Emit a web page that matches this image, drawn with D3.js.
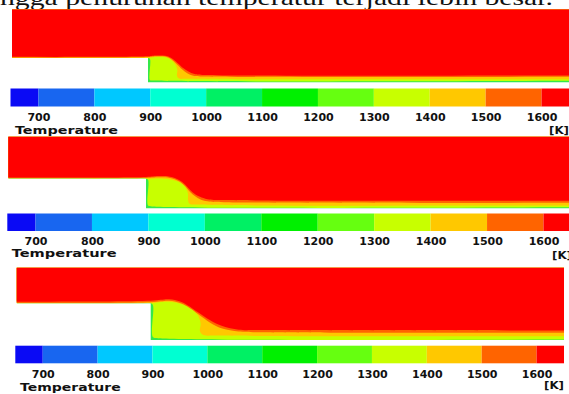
<!DOCTYPE html>
<html>
<head>
<meta charset="utf-8">
<script src="https://cdn.jsdelivr.net/npm/d3@7"></script>
<style>
  html, body { margin: 0; padding: 0; background: #fff; }
  svg { display: block; }
</style>
</head>
<body>
<svg id="chart" width="569" height="394"></svg>
<script>
// ---------- DATA ----------
const captionText = "ngga penurunan temperatur terjadi lebih besar.";
const tickValues = [700, 800, 900, 1000, 1100, 1200, 1300, 1400, 1500, 1600];
const bandEdges = [650, 700, 800, 900, 1000, 1100, 1200, 1300, 1400, 1500, 1600, 1650];
const bandColors = ["#0a0af5", "#1866f0", "#00c8ff", "#00ffd2", "#00f064", "#00f000",
                    "#66ff10", "#c8ff00", "#ffc800", "#ff6400", "#ff0000"];
const legendTitle = "Temperature";
const unitLabel = "[K]";
// isotherm levels drawn in the field (colour of region above each isotherm)
const isoLevels = [1300, 1400, 1500, 1600];
const wallColor = "#34e84a";
// isotherm shapes, [x downstream of step, height above bottom wall] in step heights
const case1Iso = {
  1300: [[-10,1.0],[0,1.0],[0.08,0.96],[0.08,0.1],[0.2,0.08],[20,0.08]],
  1400: [[-10,1.0],[0,1.0],[0.3,1.04],[0.7,1.03],[0.95,0.92],[1.12,0.72],[1.2,0.5],[1.18,0.3],[1.25,0.17],[1.6,0.15],[20,0.14]],
  1500: [[-10,1.03],[0,1.04],[0.3,1.07],[0.7,1.06],[0.95,0.95],[1.15,0.78],[1.4,0.53],[1.6,0.38],[1.85,0.28],[2.3,0.25],[20,0.24]],
  1600: [[-10,1.06],[0,1.07],[0.3,1.1],[0.7,1.09],[0.95,1.0],[1.2,0.8],[1.45,0.58],[1.65,0.45],[1.9,0.35],[2.3,0.31],[20,0.30]]
};
const case2Iso = {
  1300: [[-10,1.0],[0,1.0],[0.07,0.95],[0.07,0.1],[0.2,0.07],[20,0.07]],
  1400: [[-10,1.0],[0,0.99],[0.4,1.0],[0.8,0.97],[1.1,0.88],[1.3,0.72],[1.4,0.5],[1.4,0.3],[1.45,0.16],[1.7,0.13],[20,0.12]],
  1500: [[-10,1.02],[0,1.02],[0.4,1.04],[0.8,1.02],[1.1,0.91],[1.3,0.75],[1.47,0.55],[1.65,0.4],[1.8,0.31],[2.05,0.24],[2.6,0.21],[20,0.2]],
  1600: [[-10,1.05],[0,1.05],[0.4,1.08],[0.8,1.06],[1.1,0.95],[1.3,0.8],[1.47,0.62],[1.65,0.47],[1.8,0.39],[2.05,0.31],[2.6,0.28],[20,0.27]]
};
const case3Iso = {
  1300: [[-10,1.0],[0,1.0],[0.06,0.95],[0.06,0.08],[0.2,0.05],[20,0.05]],
  1400: [[-10,1.0],[0,1.0],[0.4,1.04],[0.75,1.0],[1.05,0.88],[1.28,0.68],[1.36,0.45],[1.34,0.25],[1.42,0.14],[1.8,0.12],[20,0.12]],
  1500: [[-10,1.02],[0,1.03],[0.5,1.07],[0.8,1.01],[1.0,0.91],[1.3,0.7],[1.62,0.47],[1.95,0.31],[2.4,0.23],[3,0.21],[20,0.21]],
  1600: [[-10,1.06],[0,1.07],[0.5,1.11],[0.8,1.05],[1.0,0.95],[1.3,0.75],[1.62,0.54],[1.95,0.38],[2.4,0.28],[3,0.27],[20,0.26]]
};

// ---------- LAYOUT ----------
const panels = [
  { iso: case1Iso, left: 12, right: 571, top: 9.5, wall: 58, step: 148, bottom: 82.5,
    barY0: 88.5, barY1: 106.5, barRange: [10.5, 569.5], tickBase: 121,
    titleX: 15, titleBase: 134, titleLen: 103, unitX: 549, unitBase: 134 },
  { iso: case2Iso, left: 8.3, right: 572, top: 136.7, wall: 178.5, step: 146, bottom: 208.5,
    barY0: 213.5, barY1: 231, barRange: [7.3, 571.7], tickBase: 245,
    titleX: 11.7, titleBase: 256.5, titleLen: 105, unitX: 552, unitBase: 259 },
  { iso: case3Iso, left: 16.7, right: 564, top: 267.7, wall: 303.3, step: 150.7, bottom: 340,
    barY0: 345.7, barY1: 363.3, barRange: [15.3, 564], tickBase: 378,
    titleX: 20, titleBase: 391, titleLen: 100.7, unitX: 544, unitBase: 389 }
];

const svg = d3.select("#chart");
const fieldColor = d3.scaleThreshold()
  .domain(bandEdges.slice(1, -1))
  .range(bandColors);

// caption fragment at the top (cut off by the crop, as in the source)
svg.append("text")
  .attr("x", 0).attr("y", 4.5)
  .attr("font-family", "'Liberation Serif', 'Times New Roman', serif")
  .attr("font-size", 21)
  .attr("textLength", 553)
  .attr("lengthAdjust", "spacingAndGlyphs")
  .attr("fill", "#111")
  .text(captionText);

panels.forEach((p, i) => {
  const g = svg.append("g");
  const H = p.bottom - p.wall;
  const xs = d3.scaleLinear().domain([0, 1]).range([p.step, p.step + H]);
  const ys = d3.scaleLinear().domain([0, 1]).range([p.bottom, p.wall]);

  // flow domain used as clip
  const clipId = "clip" + i;
  const domainPts = [[p.left, p.top], [p.right, p.top], [p.right, p.bottom],
                     [p.step, p.bottom], [p.step, p.wall], [p.left, p.wall]];
  g.append("clipPath").attr("id", clipId)
    .append("path").attr("d", "M" + domainPts.join("L") + "Z");

  const field = g.append("g").attr("clip-path", `url(#${clipId})`);
  field.append("rect")
    .attr("x", p.left).attr("y", p.top)
    .attr("width", p.right - p.left).attr("height", p.bottom - p.top)
    .attr("fill", wallColor);

  const line = d3.line()
    .x(d => xs(d[0])).y(d => ys(d[1]))
    .curve(d3.curveCatmullRom.alpha(0.5));

  isoLevels.forEach(level => {
    const pts = p.iso[level];
    const first = pts[0], last = pts[pts.length - 1];
    const d = line(pts) +
      "L" + xs(last[0]) + "," + (p.top - 10) +
      "L" + xs(first[0]) + "," + (p.top - 10) + "Z";
    field.append("path").attr("d", d).attr("fill", fieldColor(level));
  });

  // colour bar
  const xb = d3.scaleLinear().domain([bandEdges[0], bandEdges[bandEdges.length - 1]]).range(p.barRange);
  const bands = d3.pairs(bandEdges).map((e, k) => ({ lo: e[0], hi: e[1], color: bandColors[k] }));
  g.selectAll("rect.band").data(bands).join("rect")
    .attr("class", "band")
    .attr("x", d => xb(d.lo)).attr("y", p.barY0)
    .attr("width", d => xb(d.hi) - xb(d.lo)).attr("height", p.barY1 - p.barY0)
    .attr("fill", d => d.color);

  const fs = 11;
  const axis = d3.axisBottom(xb).tickValues(tickValues).tickSize(0)
    .tickPadding(p.tickBase - p.barY1 - 0.71 * fs).tickFormat(d3.format("d"));
  const ax = g.append("g").attr("transform", `translate(0,${p.barY1})`).call(axis);
  ax.select(".domain").remove();
  ax.selectAll("text")
    .attr("font-family", "'DejaVu Sans', Verdana, sans-serif")
    .attr("font-weight", "bold")
    .attr("font-size", fs)
    .attr("fill", "#111");
  ax.attr("font-family", null).attr("font-size", null);

  g.append("text")
    .attr("x", p.titleX).attr("y", p.titleBase)
    .attr("font-family", "'DejaVu Sans', Verdana, sans-serif")
    .attr("font-weight", "bold").attr("font-size", fs)
    .attr("textLength", p.titleLen).attr("lengthAdjust", "spacingAndGlyphs")
    .attr("fill", "#111")
    .text(legendTitle);

  g.append("text")
    .attr("x", p.unitX).attr("y", p.unitBase)
    .attr("font-family", "'DejaVu Sans', Verdana, sans-serif")
    .attr("font-weight", "bold").attr("font-size", fs)
    .attr("textLength", 20).attr("lengthAdjust", "spacingAndGlyphs")
    .attr("fill", "#111")
    .text(unitLabel);
});
</script>
</body>
</html>
